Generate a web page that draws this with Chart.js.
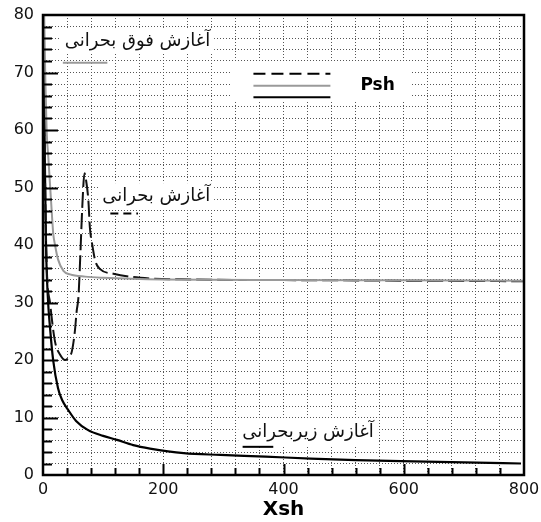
<!DOCTYPE html>
<html>
<head>
<meta charset="utf-8">
<script src="https://cdn.jsdelivr.net/npm/chart.js@4/dist/chart.umd.min.js"></script>
<style>
  html, body { margin: 0; padding: 0; background: #fff; }
  #wrap { width: 541px; height: 522px; }
</style>
</head>
<body>
<div id="wrap"><canvas id="chart" width="541" height="522"></canvas></div>
<script>
// Psh vs Xsh, three start-up modes
var superX = [2, 4, 6, 9, 12, 15, 17, 20, 25, 34, 45, 70, 100, 200, 400, 600, 800];
var superY = [80, 68, 60, 55, 50, 45, 42, 40, 37.5, 35.5, 34.9, 34.5, 34.3, 34.0, 33.9, 33.85, 33.8];

var critX = [1, 3, 6, 12, 20, 28, 37, 43, 48, 53, 56, 59, 62, 65.5, 69, 72, 75.5, 78, 82, 87, 95, 117, 162, 250, 400, 600, 800];
var critY = [80, 55, 37, 29.7, 23.2, 21, 20, 20.5, 21.5, 25, 28.5, 31, 38, 47, 52.5, 51, 47.7, 43, 40, 37.2, 35.8, 35, 34.3, 34.0, 33.9, 33.8, 33.7];

var subX = [1, 3, 5, 8, 11.7, 17, 25, 32, 42, 55, 75, 100, 123, 150, 178, 234, 295, 370, 445, 520, 595, 700, 795];
var subY = [80, 55, 40, 31, 25.6, 19.9, 15.1, 13, 11.3, 9.4, 7.8, 6.8, 6.1, 5.2, 4.6, 3.8, 3.5, 3.2, 2.85, 2.6, 2.4, 2.2, 2.0];

var xTickLabels = [0, 200, 400, 600, 800];
var yTickLabels = [0, 10, 20, 30, 40, 50, 60, 70, 80];

var labelSuper = 'آغازش فوق بحرانی';
var labelCrit = 'آغازش بحرانی';
var labelSub = 'آغازش زیربحرانی';

function zip(xs, ys) {
    return xs.map(function(x, i) { return { x: x, y: ys[i] }; });
}

var grayColor = '#9a9a9a';
var arabicFont = '18px "DejaVu Sans"';

// frame, inward ticks, annotations and the little legend box
var decorPlugin = {
    id: 'decor',
    beforeDatasetsDraw: function(chart) {
        var ctx = chart.ctx, x = chart.scales.x, y = chart.scales.y;
        ctx.save();
        ctx.fillStyle = '#fff';
        // white boxes behind the texts
        ctx.fillRect(x.getPixelForValue(312), y.getPixelForValue(71.9),
            x.getPixelForValue(612) - x.getPixelForValue(312), y.getPixelForValue(65.2) - y.getPixelForValue(71.9));
        ctx.font = arabicFont;
        ctx.textAlign = 'right';
        ctx.textBaseline = 'middle';
        [[labelSuper, 278, 75.5], [labelCrit, 278, 48.5], [labelSub, 550, 7.4]].forEach(function(a) {
            var w = ctx.measureText(a[0]).width;
            var px = x.getPixelForValue(a[1]), py = y.getPixelForValue(a[2]);
            ctx.fillStyle = '#fff';
            ctx.fillRect(px - w - 4, py - 13, w + 8, 26);
        });
        ctx.restore();
    },
    afterDraw: function(chart) {
        var ctx = chart.ctx, x = chart.scales.x, y = chart.scales.y, a = chart.chartArea;
        ctx.save();
        // inward ticks
        ctx.strokeStyle = '#000';
        ctx.lineWidth = 2;
        ctx.beginPath();
        for (var v = 40; v < 800; v += 40) {
            var px = Math.round(x.getPixelForValue(v)) + 0.5;
            var len = (v % 200 === 0) ? 11 : 7;
            ctx.moveTo(px, a.bottom);
            ctx.lineTo(px, a.bottom - len);
        }
        for (var w = 2; w < 80; w += 2) {
            var py = Math.round(y.getPixelForValue(w)) + 0.5;
            var l = (w % 10 === 0) ? 15 : 9;
            ctx.moveTo(a.left, py);
            ctx.lineTo(a.left + l, py);
        }
        ctx.stroke();
        // frame
        ctx.lineWidth = 2.5;
        ctx.strokeRect(a.left, a.top, a.right - a.left, a.bottom - a.top);

        // annotation texts
        ctx.fillStyle = '#111';
        ctx.font = arabicFont;
        ctx.textAlign = 'right';
        ctx.textBaseline = 'middle';
        ctx.fillText(labelSuper, x.getPixelForValue(278), y.getPixelForValue(75.5));
        ctx.fillText(labelCrit, x.getPixelForValue(278), y.getPixelForValue(48.5));
        ctx.fillText(labelSub, x.getPixelForValue(550), y.getPixelForValue(7.4));

        function seg(x1, x2, yv, color, dash) {
            ctx.beginPath();
            ctx.strokeStyle = color;
            ctx.lineWidth = 2;
            ctx.setLineDash(dash);
            ctx.moveTo(x.getPixelForValue(x1), y.getPixelForValue(yv));
            ctx.lineTo(x.getPixelForValue(x2), y.getPixelForValue(yv));
            ctx.stroke();
        }
        // underlines
        seg(33, 107, 71.7, grayColor, []);
        seg(112, 158, 45.5, '#000', [8, 5]);
        seg(332, 383, 4.9, '#000', []);
        // legend samples
        seg(350, 478, 69.8, '#000', [12, 6]);
        seg(350, 478, 67.7, grayColor, []);
        seg(350, 478, 65.7, '#000', []);
        ctx.setLineDash([]);
        ctx.fillStyle = '#000';
        ctx.font = 'bold 17px "DejaVu Sans"';
        ctx.textAlign = 'left';
        ctx.fillText('Psh', x.getPixelForValue(528), y.getPixelForValue(67.7));
        ctx.restore();
    }
};

var ctx = document.getElementById('chart').getContext('2d');
new Chart(ctx, {
    type: 'scatter',
    data: {
        datasets: [{
            label: labelSuper,
            data: zip(superX, superY),
            showLine: true,
            borderColor: grayColor,
            borderWidth: 2,
            pointRadius: 0,
            cubicInterpolationMode: 'monotone'
        }, {
            label: labelCrit,
            data: zip(critX, critY),
            showLine: true,
            borderColor: '#111',
            borderWidth: 2,
            borderDash: [16, 5],
            pointRadius: 0,
            cubicInterpolationMode: 'monotone'
        }, {
            label: labelSub,
            data: zip(subX, subY),
            showLine: true,
            borderColor: '#000',
            borderWidth: 2.2,
            pointRadius: 0,
            cubicInterpolationMode: 'monotone'
        }]
    },
    options: {
        responsive: false,
        animation: false,
        layout: { padding: { top: 15, right: 17, left: 0, bottom: 0 } },
        plugins: {
            legend: { display: false },
            tooltip: { enabled: false }
        },
        scales: {
            x: {
                type: 'linear',
                min: 0,
                max: 800,
                afterFit: function(scale) {
                    scale.height = 47;
                    scale.paddingLeft = 0;
                    scale.paddingRight = 0;
                },
                ticks: {
                    stepSize: 40,
                    autoSkip: false,
                    maxRotation: 0,
                    padding: 5,
                    color: '#111',
                    font: { family: 'DejaVu Sans', size: 16 },
                    callback: function(v) { return xTickLabels.indexOf(v) >= 0 ? String(v) : ''; }
                },
                grid: {
                    color: '#555',
                    lineWidth: 1,
                    drawTicks: false
                },
                border: { display: false, dash: [1, 2] },
                title: {
                    display: true,
                    text: 'Xsh',
                    color: '#000',
                    padding: { top: 2, bottom: 0 },
                    font: { family: 'DejaVu Sans', size: 20, weight: 'bold' }
                }
            },
            y: {
                min: 0,
                max: 80,
                afterFit: function(scale) {
                    scale.width = 43;
                    scale.paddingTop = 0;
                    scale.paddingBottom = 0;
                },
                ticks: {
                    stepSize: 2,
                    autoSkip: false,
                    padding: 9,
                    color: '#111',
                    font: { family: 'DejaVu Sans', size: 16 },
                    callback: function(v) { return yTickLabels.indexOf(v) >= 0 ? String(v) : ''; }
                },
                grid: {
                    color: '#555',
                    lineWidth: 1,
                    drawTicks: false
                },
                border: { display: false, dash: [1, 2] }
            }
        }
    },
    plugins: [decorPlugin]
});
</script>
</body>
</html>
